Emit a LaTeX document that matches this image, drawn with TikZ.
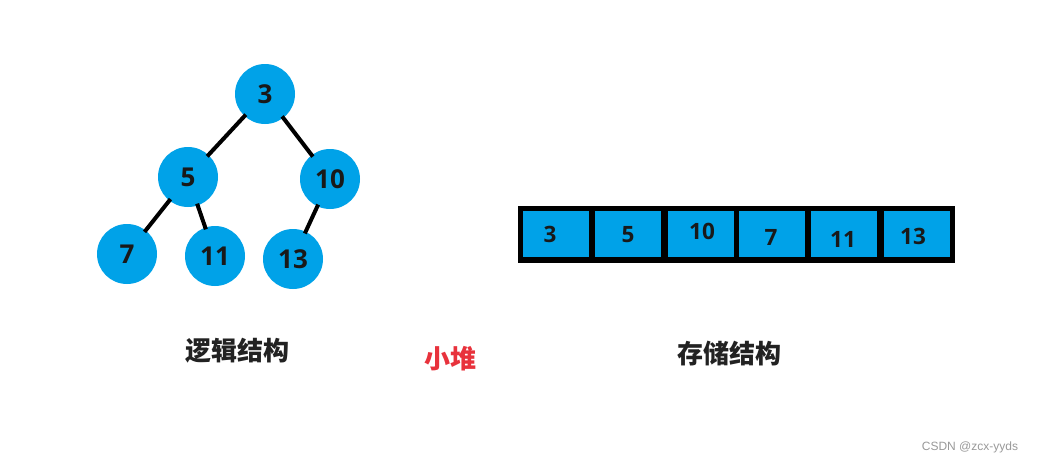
\documentclass[tikz,border=0pt]{standalone}
\usepackage{fontspec}
\setmainfont{Open Sans}
\newfontfamily\cjk{Noto Sans CJK SC}
\newfontfamily\wm{Liberation Sans}
\definecolor{heapblue}{RGB}{0,162,232}
\definecolor{labelred}{RGB}{232,50,60}
\definecolor{labeldark}{RGB}{34,34,34}
\begin{document}
\begin{tikzpicture}[x=1pt,y=-1pt,
  treenode/.style={circle,fill=heapblue,minimum size=60pt,inner sep=0pt,font=\fontsize{26}{26}\selectfont\bfseries,text=black!90},
  edge/.style={line width=4pt,black},
  cell/.style={rectangle,fill=heapblue,minimum width=66pt,minimum height=46pt,inner sep=0pt},
  celltext/.style={font=\fontsize{22.5}{22.5}\selectfont\bfseries,text=black!90,inner sep=0pt},
  caption/.style={font=\cjk\fontsize{26}{26}\selectfont\bfseries,text=labeldark}]
\useasboundingbox[fill=white] (0,0) rectangle (1042,464);
% tree
\node[treenode] (n3) at (265,94) {3};
\node[treenode] (n5) at (188,177) {5};
\node[treenode] (n10) at (330,179) {10};
\node[treenode] (n7) at (127,254) {7};
\node[treenode] (n11) at (215,256) {11};
\node[treenode] (n13) at (293,259) {13};
\draw[edge,shorten <=-2pt,shorten >=-2pt] (n3) -- (n5);
\draw[edge,shorten <=-2pt,shorten >=-2pt] (n3) -- (n10);
\draw[edge,shorten <=-2pt,shorten >=-2pt] (n5) -- (n7);
\draw[edge,shorten <=-2pt,shorten >=-2pt] (n5) -- (n11);
\draw[edge,shorten <=-2pt,shorten >=-2pt] (n10) -- (n13);
% array
\node[rectangle,fill=black,minimum width=437pt,minimum height=57pt,inner sep=0pt] (arr) at (736.5,234.5) {};
\node[cell] (c1) at (556,234) {};
\node[cell] (c2) at (628,234) {};
\node[cell] (c3) at (700.5,234) {};
\node[cell] (c4) at (772,234) {};
\node[cell] (c5) at (844,234) {};
\node[cell] (c6) at (916.5,234) {};
\node[celltext] (t1) at (550,234.5) {3};
\node[celltext] (t2) at (628,234.5) {5};
\node[celltext] (t3) at (702,231.5) {10};
\node[celltext] (t4) at (771,237.5) {7};
\node[celltext] (t5) at (843,239) {11};
\node[celltext] (t6) at (913,236) {13};
% captions
\node[caption] (lc) at (237,351) {逻辑结构};
\node[caption,text=labelred] (mid) at (450,359) {小堆};
\node[caption] (sc) at (729,354) {存储结构};
\node[font=\wm\fontsize{12}{12}\selectfont,text=black!40] (wm) at (970,447) {CSDN @zcx-yyds};
\end{tikzpicture}
\end{document}
